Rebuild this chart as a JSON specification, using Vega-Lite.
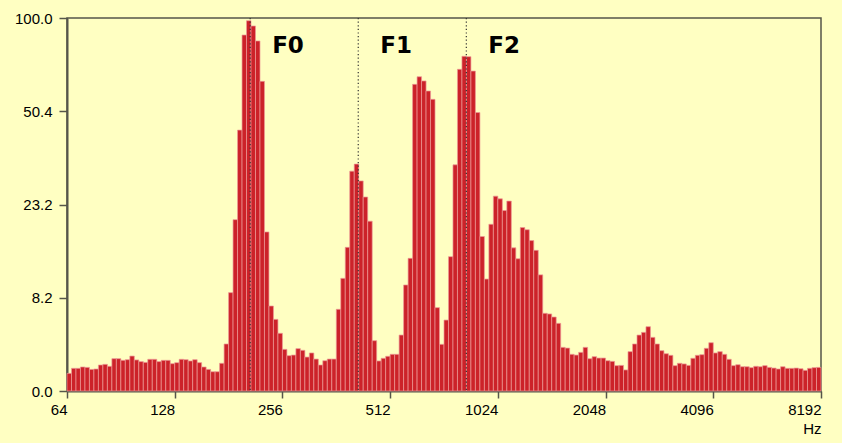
{
  "$schema": "https://vega.github.io/schema/vega-lite/v6.json",
  "width": 754,
  "height": 373,
  "autosize": {"type": "none"},
  "padding": {"left": 67, "top": 18, "right": 21, "bottom": 52},
  "background": "#ffffc2",
  "config": {
    "view": {"stroke": "#55554a", "strokeWidth": 1.5, "fill": "#ffffc2"},
    "axis": {
      "grid": false,
      "domainColor": "#55554a",
      "domainWidth": 2,
      "tickColor": "#55554a",
      "tickWidth": 1.5,
      "labelColor": "#000000",
      "labelFont": "Liberation Sans",
      "labelFontSize": 15,
      "titleFont": "Liberation Sans",
      "titleFontSize": 15,
      "titleFontWeight": "normal",
      "titleColor": "#000000"
    }
  },
  "datasets": {
    "spectrum": [
      {"lo": 64, "hi": 65.88, "amp": 1.2},
      {"lo": 65.88, "hi": 67.81, "amp": 1.57},
      {"lo": 67.81, "hi": 69.79, "amp": 1.57},
      {"lo": 69.79, "hi": 71.84, "amp": 1.67},
      {"lo": 71.84, "hi": 73.94, "amp": 1.64},
      {"lo": 73.94, "hi": 76.11, "amp": 1.49},
      {"lo": 76.11, "hi": 78.34, "amp": 1.52},
      {"lo": 78.34, "hi": 80.63, "amp": 1.82},
      {"lo": 80.63, "hi": 83.0, "amp": 1.87},
      {"lo": 83.0, "hi": 85.43, "amp": 1.72},
      {"lo": 85.43, "hi": 87.93, "amp": 2.31},
      {"lo": 87.93, "hi": 90.51, "amp": 2.31},
      {"lo": 90.51, "hi": 93.16, "amp": 2.18},
      {"lo": 93.16, "hi": 95.89, "amp": 2.23},
      {"lo": 95.89, "hi": 98.7, "amp": 2.52},
      {"lo": 98.7, "hi": 101.59, "amp": 2.21},
      {"lo": 101.59, "hi": 104.57, "amp": 2.08},
      {"lo": 104.57, "hi": 107.63, "amp": 2.02},
      {"lo": 107.63, "hi": 110.79, "amp": 2.26},
      {"lo": 110.79, "hi": 114.04, "amp": 2.26},
      {"lo": 114.04, "hi": 117.38, "amp": 2.08},
      {"lo": 117.38, "hi": 120.82, "amp": 2.18},
      {"lo": 120.82, "hi": 124.36, "amp": 2.18},
      {"lo": 124.36, "hi": 128, "amp": 1.92},
      {"lo": 128, "hi": 131.75, "amp": 2.0},
      {"lo": 131.75, "hi": 135.61, "amp": 2.26},
      {"lo": 135.61, "hi": 139.59, "amp": 2.23},
      {"lo": 139.59, "hi": 143.68, "amp": 2.13},
      {"lo": 143.68, "hi": 147.89, "amp": 2.23},
      {"lo": 147.89, "hi": 152.22, "amp": 2.0},
      {"lo": 152.22, "hi": 156.68, "amp": 1.67},
      {"lo": 156.68, "hi": 161.27, "amp": 1.49},
      {"lo": 161.27, "hi": 166.0, "amp": 1.32},
      {"lo": 166.0, "hi": 170.86, "amp": 1.32},
      {"lo": 170.86, "hi": 175.87, "amp": 1.95},
      {"lo": 175.87, "hi": 181.02, "amp": 3.53},
      {"lo": 181.02, "hi": 186.32, "amp": 8.82},
      {"lo": 186.32, "hi": 191.78, "amp": 20.09},
      {"lo": 191.78, "hi": 197.4, "amp": 43.5},
      {"lo": 197.4, "hi": 203.19, "amp": 88.6},
      {"lo": 203.19, "hi": 209.14, "amp": 98.1},
      {"lo": 209.14, "hi": 215.27, "amp": 94.5},
      {"lo": 215.27, "hi": 221.58, "amp": 84.9},
      {"lo": 221.58, "hi": 228.07, "amp": 63.2},
      {"lo": 228.07, "hi": 234.75, "amp": 17.8},
      {"lo": 234.75, "hi": 241.63, "amp": 7.27},
      {"lo": 241.63, "hi": 248.71, "amp": 5.85},
      {"lo": 248.71, "hi": 256, "amp": 4.49},
      {"lo": 256, "hi": 263.5, "amp": 3.07},
      {"lo": 263.5, "hi": 271.22, "amp": 2.55},
      {"lo": 271.22, "hi": 279.17, "amp": 2.6},
      {"lo": 279.17, "hi": 287.35, "amp": 3.13},
      {"lo": 287.35, "hi": 295.77, "amp": 2.99},
      {"lo": 295.77, "hi": 304.44, "amp": 2.44},
      {"lo": 304.44, "hi": 313.35, "amp": 2.77},
      {"lo": 313.35, "hi": 322.54, "amp": 2.28},
      {"lo": 322.54, "hi": 331.99, "amp": 1.82},
      {"lo": 331.99, "hi": 341.72, "amp": 2.15},
      {"lo": 341.72, "hi": 351.73, "amp": 2.28},
      {"lo": 351.73, "hi": 362.04, "amp": 2.28},
      {"lo": 362.04, "hi": 372.65, "amp": 6.91},
      {"lo": 372.65, "hi": 383.57, "amp": 10.63},
      {"lo": 383.57, "hi": 394.81, "amp": 15.18},
      {"lo": 394.81, "hi": 406.37, "amp": 31.1},
      {"lo": 406.37, "hi": 418.28, "amp": 33.0},
      {"lo": 418.28, "hi": 430.54, "amp": 28.6},
      {"lo": 430.54, "hi": 443.15, "amp": 24.8},
      {"lo": 443.15, "hi": 456.14, "amp": 19.8},
      {"lo": 456.14, "hi": 469.51, "amp": 3.82},
      {"lo": 469.51, "hi": 483.26, "amp": 2.13},
      {"lo": 483.26, "hi": 497.42, "amp": 2.34},
      {"lo": 497.42, "hi": 512, "amp": 2.5},
      {"lo": 512, "hi": 527.0, "amp": 2.66},
      {"lo": 527.0, "hi": 542.45, "amp": 2.66},
      {"lo": 542.45, "hi": 558.34, "amp": 4.33},
      {"lo": 558.34, "hi": 574.7, "amp": 9.77},
      {"lo": 574.7, "hi": 591.54, "amp": 13.46},
      {"lo": 591.54, "hi": 608.87, "amp": 61.8},
      {"lo": 608.87, "hi": 626.71, "amp": 65.4},
      {"lo": 626.71, "hi": 645.08, "amp": 63.4},
      {"lo": 645.08, "hi": 663.98, "amp": 58.8},
      {"lo": 663.98, "hi": 683.44, "amp": 55.2},
      {"lo": 683.44, "hi": 703.46, "amp": 7.09},
      {"lo": 703.46, "hi": 724.08, "amp": 3.5},
      {"lo": 724.08, "hi": 745.29, "amp": 5.78},
      {"lo": 745.29, "hi": 767.13, "amp": 13.72},
      {"lo": 767.13, "hi": 789.61, "amp": 32.8},
      {"lo": 789.61, "hi": 812.75, "amp": 69.1},
      {"lo": 812.75, "hi": 836.56, "amp": 76.0},
      {"lo": 836.56, "hi": 861.07, "amp": 75.8},
      {"lo": 861.07, "hi": 886.31, "amp": 68.2},
      {"lo": 886.31, "hi": 912.28, "amp": 49.9},
      {"lo": 912.28, "hi": 939.01, "amp": 17.0},
      {"lo": 939.01, "hi": 966.53, "amp": 10.54},
      {"lo": 966.53, "hi": 994.85, "amp": 19.2},
      {"lo": 994.85, "hi": 1024, "amp": 25.0},
      {"lo": 1024, "hi": 1054.0, "amp": 24.4},
      {"lo": 1054.0, "hi": 1084.89, "amp": 21.9},
      {"lo": 1084.89, "hi": 1116.68, "amp": 23.9},
      {"lo": 1116.68, "hi": 1149.4, "amp": 15.1},
      {"lo": 1149.4, "hi": 1183.08, "amp": 13.4},
      {"lo": 1183.08, "hi": 1217.75, "amp": 18.6},
      {"lo": 1217.75, "hi": 1253.43, "amp": 18.2},
      {"lo": 1253.43, "hi": 1290.16, "amp": 16.3},
      {"lo": 1290.16, "hi": 1327.96, "amp": 14.7},
      {"lo": 1327.96, "hi": 1366.88, "amp": 11.1},
      {"lo": 1366.88, "hi": 1406.93, "amp": 6.48},
      {"lo": 1406.93, "hi": 1448.15, "amp": 6.41},
      {"lo": 1448.15, "hi": 1490.59, "amp": 6.09},
      {"lo": 1490.59, "hi": 1534.27, "amp": 5.45},
      {"lo": 1534.27, "hi": 1579.22, "amp": 3.24},
      {"lo": 1579.22, "hi": 1625.5, "amp": 3.18},
      {"lo": 1625.5, "hi": 1673.13, "amp": 2.66},
      {"lo": 1673.13, "hi": 1722.13, "amp": 2.6},
      {"lo": 1722.13, "hi": 1772.61, "amp": 2.82},
      {"lo": 1772.61, "hi": 1824.56, "amp": 3.24},
      {"lo": 1824.56, "hi": 1878.03, "amp": 2.31},
      {"lo": 1878.03, "hi": 1933.05, "amp": 2.47},
      {"lo": 1933.05, "hi": 1989.71, "amp": 2.36},
      {"lo": 1989.71, "hi": 2048, "amp": 2.36},
      {"lo": 2048, "hi": 2108.01, "amp": 2.15},
      {"lo": 2108.01, "hi": 2169.78, "amp": 2.1},
      {"lo": 2169.78, "hi": 2233.36, "amp": 1.77},
      {"lo": 2233.36, "hi": 2298.8, "amp": 1.79},
      {"lo": 2298.8, "hi": 2366.16, "amp": 1.45},
      {"lo": 2366.16, "hi": 2435.5, "amp": 2.88},
      {"lo": 2435.5, "hi": 2506.86, "amp": 3.53},
      {"lo": 2506.86, "hi": 2580.32, "amp": 4.33},
      {"lo": 2580.32, "hi": 2655.93, "amp": 4.58},
      {"lo": 2655.93, "hi": 2733.75, "amp": 5.12},
      {"lo": 2733.75, "hi": 2813.86, "amp": 4.12},
      {"lo": 2813.86, "hi": 2896.31, "amp": 3.53},
      {"lo": 2896.31, "hi": 2981.18, "amp": 2.96},
      {"lo": 2981.18, "hi": 3068.53, "amp": 2.71},
      {"lo": 3068.53, "hi": 3158.44, "amp": 2.58},
      {"lo": 3158.44, "hi": 3250.99, "amp": 1.77},
      {"lo": 3250.99, "hi": 3346.26, "amp": 1.95},
      {"lo": 3346.26, "hi": 3444.26, "amp": 1.9},
      {"lo": 3444.26, "hi": 3545.22, "amp": 1.79},
      {"lo": 3545.22, "hi": 3649.12, "amp": 2.34},
      {"lo": 3649.12, "hi": 3756.06, "amp": 2.58},
      {"lo": 3756.06, "hi": 3866.11, "amp": 2.63},
      {"lo": 3866.11, "hi": 3979.41, "amp": 3.16},
      {"lo": 3979.41, "hi": 4096, "amp": 3.64},
      {"lo": 4096, "hi": 4216.02, "amp": 2.77},
      {"lo": 4216.02, "hi": 4339.56, "amp": 2.88},
      {"lo": 4339.56, "hi": 4466.72, "amp": 2.66},
      {"lo": 4466.72, "hi": 4597.6, "amp": 2.26},
      {"lo": 4597.6, "hi": 4732.33, "amp": 1.77},
      {"lo": 4732.33, "hi": 4871.0, "amp": 1.84},
      {"lo": 4871.0, "hi": 5013.72, "amp": 1.69},
      {"lo": 5013.72, "hi": 5160.64, "amp": 1.69},
      {"lo": 5160.64, "hi": 5311.86, "amp": 1.62},
      {"lo": 5311.86, "hi": 5467.51, "amp": 1.72},
      {"lo": 5467.51, "hi": 5627.71, "amp": 1.69},
      {"lo": 5627.71, "hi": 5792.62, "amp": 1.77},
      {"lo": 5792.62, "hi": 5962.36, "amp": 1.64},
      {"lo": 5962.36, "hi": 6137.06, "amp": 1.59},
      {"lo": 6137.06, "hi": 6316.89, "amp": 1.52},
      {"lo": 6316.89, "hi": 6501.98, "amp": 1.69},
      {"lo": 6501.98, "hi": 6692.51, "amp": 1.57},
      {"lo": 6692.51, "hi": 6888.52, "amp": 1.57},
      {"lo": 6888.52, "hi": 7090.43, "amp": 1.59},
      {"lo": 7090.43, "hi": 7298.25, "amp": 1.54},
      {"lo": 7298.25, "hi": 7512.12, "amp": 1.42},
      {"lo": 7512.12, "hi": 7732.22, "amp": 1.57},
      {"lo": 7732.22, "hi": 7958.83, "amp": 1.62},
      {"lo": 7958.83, "hi": 8192, "amp": 1.64}
    ],
    "formants": [
      {"name": "F0", "freq": 208},
      {"name": "F1", "freq": 417},
      {"name": "F2", "freq": 836}
    ]
  },
  "layer": [
    {
      "data": {"name": "spectrum"},
      "mark": {"type": "bar", "fill": "#cc2229", "stroke": "#ec9a98", "strokeWidth": 0.7},
      "encoding": {
        "x": {
          "field": "lo",
          "type": "quantitative",
          "scale": {"type": "log", "base": 2, "domain": [64, 8192], "nice": false},
          "axis": {
            "values": [64, 128, 256, 512, 1024, 2048, 4096, 8192],
            "format": "d",
            "title": "Hz",
            "titleAnchor": "end",
            "titlePadding": 4,
            "tickSize": 7,
            "labelPadding": 4,
            "labelAlign": "right",
            "labelDx": 4,
            "labelFlush": false
          }
        },
        "x2": {"field": "hi"},
        "y": {
          "field": "amp",
          "type": "quantitative",
          "scale": {"type": "symlog", "constant": 10, "domain": [0, 100], "nice": false},
          "axis": {
            "values": [0, 8.2116, 23.1662, 50.401, 100],
            "format": ".1f",
            "title": null,
            "tickSize": 8,
            "labelPadding": 7
          }
        },
        "y2": {"datum": 0}
      }
    },
    {
      "data": {"name": "formants"},
      "mark": {"type": "rule", "color": "#333333", "strokeWidth": 1.2, "strokeDash": [1.2, 2.4]},
      "encoding": {
        "x": {"field": "freq", "type": "quantitative"}
      }
    },
    {
      "data": {"name": "formants"},
      "mark": {"type": "text", "align": "left", "baseline": "alphabetic", "dx": 22, "font": "DejaVu Sans", "fontWeight": "bold", "fontSize": 23, "color": "#000000"},
      "encoding": {
        "x": {"field": "freq", "type": "quantitative"},
        "y": {"datum": 78},
        "text": {"field": "name"}
      }
    }
  ]
}
